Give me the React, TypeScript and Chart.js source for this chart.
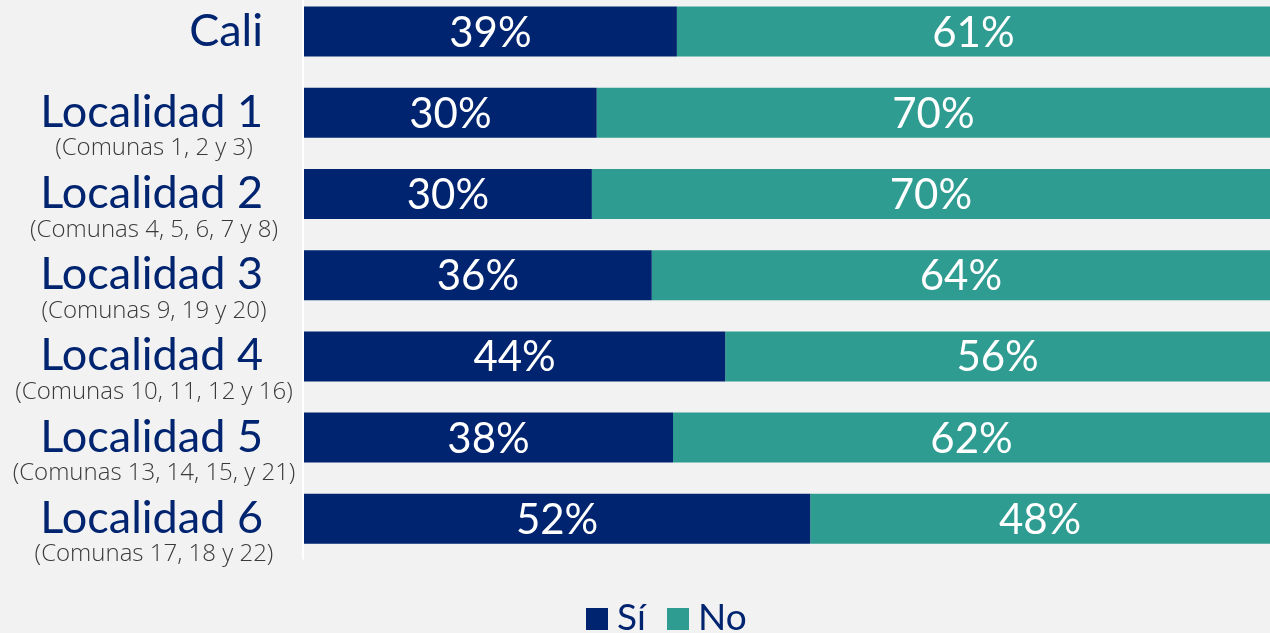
import React, { useEffect, useRef } from "react";
import { Chart, registerables } from "chart.js";

Chart.register(...registerables);

const categories = ["Cali", "Localidad 1", "Localidad 2", "Localidad 3", "Localidad 4", "Localidad 5", "Localidad 6"];
const subLabels = [
  "",
  "(Comunas 1, 2 y 3)",
  "(Comunas 4, 5, 6, 7 y 8)",
  "(Comunas 9, 19 y 20)",
  "(Comunas 10, 11, 12 y 16)",
  "(Comunas 13, 14, 15, y 21)",
  "(Comunas 17, 18 y 22)",
];
const siValues = [38.6, 30.3, 29.8, 36.0, 43.6, 38.2, 52.4];
const noValues = [61.4, 69.7, 70.2, 64.0, 56.4, 61.8, 47.6];
const siLabels = ["39%", "30%", "30%", "36%", "44%", "38%", "52%"];
const noLabels = ["61%", "70%", "70%", "64%", "56%", "62%", "48%"];
const seriesNames = ["Sí", "No"];

const NAVY = "#00246f";
const TEAL = "#2e9c91";
const FONT = "Lato, 'Open Sans', sans-serif";
const SUBFONT = "'Open Sans', Lato, sans-serif";
const OFF = 9; // canvas is shifted up by this many pixels

const decorPlugin = {
  id: "decor",
  beforeDatasetsDraw(chart: any) {
    const { ctx, chartArea } = chart;
    ctx.save();
    ctx.fillStyle = "#ffffff";
    ctx.fillRect(chartArea.left - 2, chartArea.top, 2, chartArea.bottom - chartArea.top);
    ctx.restore();
  },
  afterDatasetsDraw(chart: any) {
    const { ctx } = chart;
    const labelSets = [siLabels, noLabels];
    ctx.save();
    ctx.fillStyle = "#ffffff";
    ctx.font = `42px ${FONT}`;
    ctx.textAlign = "center";
    ctx.textBaseline = "alphabetic";
    chart.data.datasets.forEach((ds: any, di: number) => {
      const meta = chart.getDatasetMeta(di);
      meta.data.forEach((bar: any, i: number) => {
        const xc = (bar.x + bar.base) / 2;
        ctx.fillText(labelSets[di][i], xc, bar.y + 15);
      });
    });
    ctx.restore();
  },
  afterDraw(chart: any) {
    const { ctx } = chart;
    const yScale = chart.scales.y;
    ctx.save();
    categories.forEach((c, i) => {
      const y = yScale.getPixelForValue(i);
      ctx.font = `45px ${FONT}`;
      ctx.fillStyle = NAVY;
      ctx.textAlign = "right";
      ctx.textBaseline = "alphabetic";
      ctx.fillText(c, 263, y + 14);
      if (subLabels[i]) {
        ctx.font = `300 24px ${SUBFONT}`;
        ctx.fillStyle = "#3a3a3a";
        ctx.textAlign = "center";
        ctx.fillText(subLabels[i], 154, y + 42.5);
      }
    });
    const colors = [NAVY, TEAL];
    const xs = [586, 667];
    ctx.font = `37px ${FONT}`;
    ctx.textAlign = "left";
    seriesNames.forEach((n, i) => {
      ctx.fillStyle = colors[i];
      ctx.fillRect(xs[i], 608 + OFF, 22, 22);
      ctx.fillStyle = NAVY;
      ctx.fillText(n, xs[i] + 31, 630 + OFF);
    });
    ctx.restore();
  },
};

export default function App() {
  const ref = useRef<HTMLCanvasElement>(null);
  useEffect(() => {
    if (!ref.current) return;
    const chart = new Chart(ref.current, {
      type: "bar",
      data: {
        labels: categories,
        datasets: [
          { label: seriesNames[0], data: siValues, backgroundColor: NAVY, borderWidth: 0 },
          { label: seriesNames[1], data: noValues, backgroundColor: TEAL, borderWidth: 0 },
        ],
      },
      options: {
        indexAxis: "y",
        animation: false,
        responsive: true,
        maintainAspectRatio: false,
        layout: { padding: { top: 0, bottom: 73.6, left: 0, right: 0 } },
        datasets: { bar: { categoryPercentage: 1, barPercentage: 0.616 } },
        scales: {
          x: { stacked: true, min: 0, max: 100, display: false },
          y: {
            stacked: true,
            ticks: { display: false },
            grid: { display: false },
            border: { display: false },
            afterFit: (s: any) => {
              s.width = 304;
            },
          },
        },
        plugins: { legend: { display: false }, tooltip: { enabled: false } },
      },
      plugins: [decorPlugin],
    } as any);
    return () => chart.destroy();
  }, []);
  return (
    <div style={{ position: "absolute", left: 0, top: 0, width: 1270, height: 633, overflow: "hidden", background: "#f2f2f2" }}>
      <div style={{ position: "absolute", left: 0, top: -OFF, width: 1270, height: 633 + OFF }}>
        <canvas ref={ref} />
      </div>
    </div>
  );
}
